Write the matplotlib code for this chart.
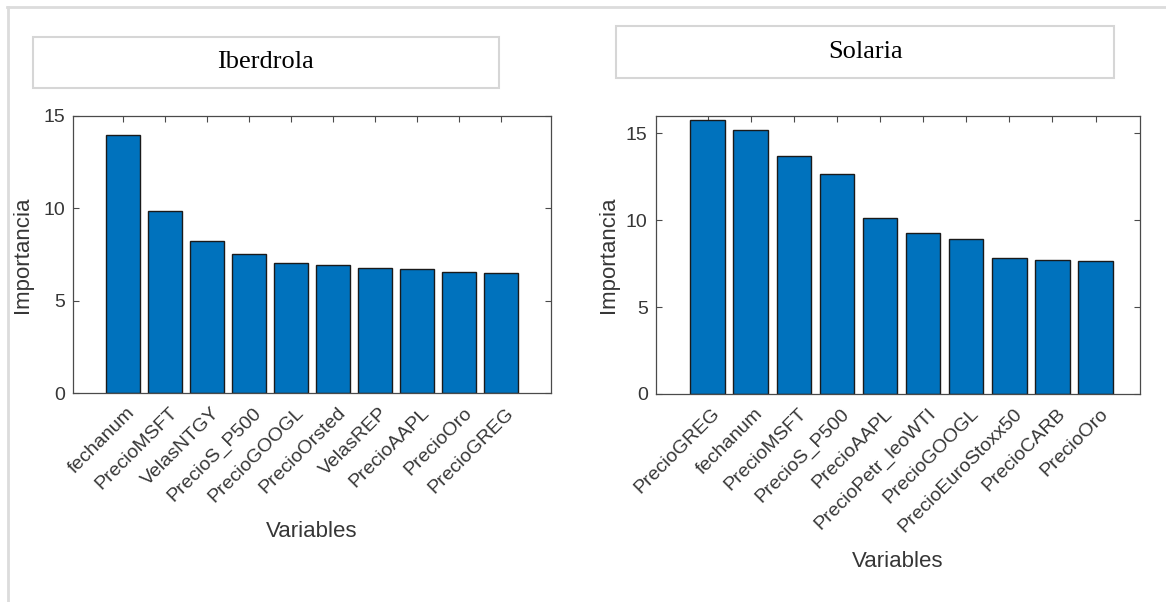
import matplotlib
matplotlib.use("Agg")
import matplotlib.pyplot as plt
import matplotlib.transforms as mtrans
from matplotlib.patches import Rectangle
from matplotlib.lines import Line2D

# ---- data ----
ib_vars = ["fechanum", "PrecioMSFT", "VelasNTGY", "PrecioS_P500", "PrecioGOOGL",
           "PrecioOrsted", "VelasREP", "PrecioAAPL", "PrecioOro", "PrecioGREG"]
ib_vals = [13.99, 9.88, 8.24, 7.52, 7.06, 6.96, 6.79, 6.72, 6.56, 6.51]

so_vars = ["PrecioGREG", "fechanum", "PrecioMSFT", "PrecioS_P500", "PrecioAAPL",
           "PrecioPetr_leoWTI", "PrecioGOOGL", "PrecioEuroStoxx50", "PrecioCARB", "PrecioOro"]
so_vals = [15.79, 15.21, 13.67, 12.67, 10.11, 9.28, 8.92, 7.80, 7.74, 7.68]

titles = ["Iberdrola", "Solaria"]
yticks = [0, 5, 10, 15]

W, H = 1166, 602
fig = plt.figure(figsize=(W / 100, H / 100), dpi=100)
fig.patch.set_facecolor("white")

SANS = ["Liberation Sans", "DejaVu Sans"]
SERIF = ["Liberation Serif", "DejaVu Serif"]
AX_COLOR = "#4a4a4a"
TXT_COLOR = "#363636"
BAR_COLOR = "#0072BD"


def px_rect(x0, y0, x1, y1):
    return [x0 / W, 1 - y1 / H, (x1 - x0) / W, (y1 - y0) / H]


# outer frame lines (light gray)
fig.add_artist(Line2D([7 / W, 1.0], [1 - 7 / H, 1 - 7 / H], transform=fig.transFigure,
                      color="#dcdcdc", lw=2.0))
fig.add_artist(Line2D([8 / W, 8 / W], [0.0, 1 - 7 / H], transform=fig.transFigure,
                      color="#dcdcdc", lw=2.0))

specs = [
    dict(vars=ib_vars, vals=ib_vals, rect=px_rect(73.3, 116, 550.7, 393.3),
         xlim=(-0.175, 11.18), ylim=(0, 15), ylab_x=(23 - 73.3) / 477.4,
         xlab_y=(393.3 - 531.7) / 277.3,
         box=(32.5, 36.7, 499, 88.3), title=titles[0]),
    dict(vars=so_vars, vals=so_vals, rect=px_rect(656, 116, 1140, 394),
         xlim=(-0.195, 11.03), ylim=(0, 16), ylab_x=(608.8 - 656) / 484,
         xlab_y=(394 - 561.7) / 278,
         box=(616, 25.7, 1114.4, 77.7), title=titles[1]),
]

shift = mtrans.ScaledTranslation(4 / 100, 0, fig.dpi_scale_trans)

for sp in specs:
    ax = fig.add_axes(sp["rect"])
    pos = list(range(1, len(sp["vals"]) + 1))
    ax.bar(pos, sp["vals"], width=0.8, color=BAR_COLOR, edgecolor="#1a1a1a",
           linewidth=1.0, zorder=2)
    ax.set_xlim(*sp["xlim"])
    ax.set_ylim(*sp["ylim"])
    ax.set_yticks(yticks)
    ax.set_xticks(pos)
    ax.tick_params(axis="both", direction="in", length=4.5, width=0.8,
                   color=AX_COLOR, top=True, right=True)
    ax.tick_params(axis="y", pad=6)
    ax.tick_params(axis="x", pad=8)
    ax.set_xticklabels(sp["vars"], rotation=45, ha="right", va="top",
                       rotation_mode="anchor", fontfamily=SANS, fontsize=14,
                       color=TXT_COLOR)
    for lab in ax.get_xticklabels():
        lab.set_transform(lab.get_transform() + shift)
    for lab in ax.get_yticklabels():
        lab.set_fontfamily(SANS)
        lab.set_fontsize(14)
        lab.set_color(TXT_COLOR)
    for s in ax.spines.values():
        s.set_color(AX_COLOR)
        s.set_linewidth(0.9)

    ax.set_ylabel("Importancia", fontfamily=SANS, fontsize=16, color=TXT_COLOR)
    ax.yaxis.label.set_va("center")
    ax.yaxis.set_label_coords(sp["ylab_x"], 0.5)
    ax.set_xlabel("Variables", fontfamily=SANS, fontsize=16, color=TXT_COLOR)
    ax.xaxis.label.set_va("center")
    ax.xaxis.set_label_coords(0.5, sp["xlab_y"])

    bx0, by0, bx1, by1 = sp["box"]
    fig.add_artist(Rectangle((bx0 / W, 1 - by1 / H), (bx1 - bx0) / W, (by1 - by0) / H,
                             transform=fig.transFigure, facecolor="white",
                             edgecolor="#d6d6d6", linewidth=1.5))
    fig.text((bx0 + bx1) / 2 / W, 1 - (by0 + by1) / 2 / H, sp["title"],
             ha="center", va="center", fontfamily=SERIF, fontsize=19, color="black")

fig.savefig("out.png", dpi=100, facecolor="white")
